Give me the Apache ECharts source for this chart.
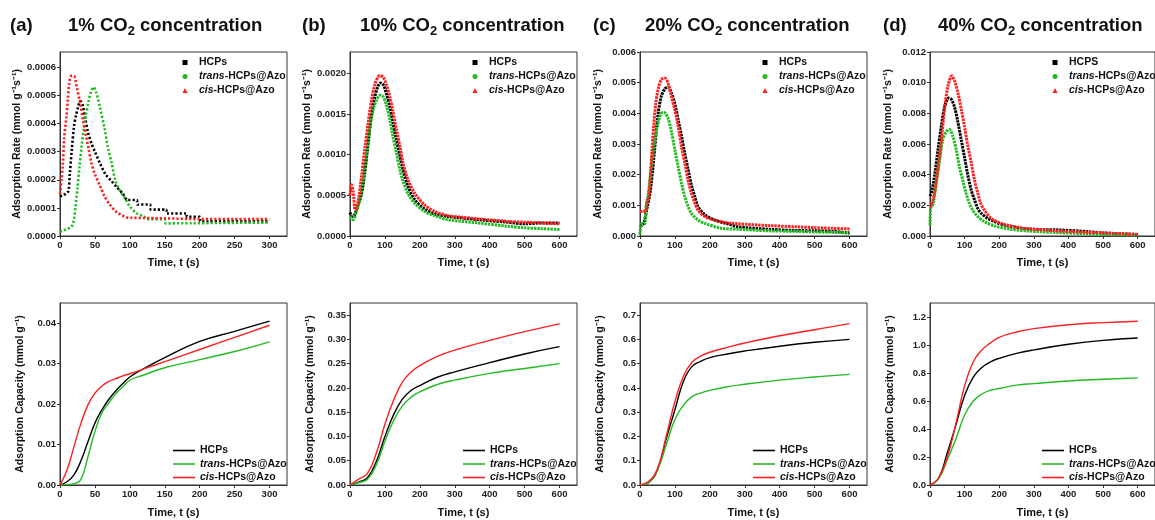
<!DOCTYPE html>
<html><head><meta charset="utf-8">
<script src="https://cdn.jsdelivr.net/npm/echarts@6/dist/echarts.min.js"></script>
<style>html,body{margin:0;padding:0;background:#fff}#c{width:1155px;height:520px}</style>
</head><body><div id="c"></div>
<script>
const FONT = 'Liberation Sans, Arial, Helvetica, sans-serif';

// ---------- Tick / label text ----------
const panelLetters = ['(a)', '(b)', '(c)', '(d)'];
const concLabels = ['1%', '10%', '20%', '40%'];
const xName = 'Time, t (s)';
const rateName = 'Adsorption Rate (mmol g\u207B\u00B9s\u207B\u00B9)';
const capName = 'Adsorption Capacity (mmol g\u207B\u00B9)';
const seriesNames = ['HCPs', 'trans-HCPs@Azo', 'cis-HCPs@Azo'];
const seriesNamesD = ['HCPS', 'trans-HCPs@Azo', 'cis-HCPs@Azo'];

// ---------- (a) 1% rate ----------
const rateA_HCPs_t = [0,4,8,12,14,17,20,23,26,29,32,36,40,45,50,57,65,72,81,90,97,110,111,129,130,152,153,181,182,200,201,300];
const rateA_HCPs = [0.00014,0.000145,0.00015,0.00016,0.00022,0.00031,0.00039,0.00043,0.00046,0.00048,0.00047,0.00042,0.00037,0.00033,0.0003,0.00026,0.00022,0.0002,0.000175,0.00015,0.000128,0.000128,0.000112,0.000112,0.000094,0.000094,0.00008,0.00008,0.000068,0.000068,0.000052,0.000052];
const rateA_trans_t = [0,5,10,15,18,20,22,25,28,31,34,37,41,44,48,52,57,64,69,74,79,86,93,100,110,120,125,150,151,300];
const rateA_trans = [0.000015,0.00002,0.000025,0.00003,0.00004,0.00006,0.0001,0.00017,0.00025,0.00032,0.00038,0.00043,0.00048,0.00051,0.00053,0.00051,0.00046,0.00038,0.00031,0.00026,0.0002,0.00016,0.000135,0.000105,0.00008,0.00007,0.00006,0.00006,0.000045,0.000048];
const rateA_cis_t = [0,2,4,6,9,11,13,16,20,24,29,33,37,41,45,50,57,64,72,81,90,96,100,150,200,250,300];
const rateA_cis = [0.00015,0.0002,0.00025,0.00035,0.00042,0.00048,0.00054,0.00057,0.00057,0.00053,0.00047,0.00041,0.00036,0.00031,0.00026,0.00022,0.00018,0.00014,0.00011,0.000085,0.000072,0.000066,0.000065,0.000063,0.00006,0.00006,0.00006];

// ---------- (b) 10% rate ----------
const rateB_HCPs_t = [0,6,13,23,33,42,52,61,71,80,87,95,104,114,123,133,143,152,166,186,214,243,281,368,450,500,550,600];
const rateB_HCPs = [0.00029,0.00024,0.00026,0.00038,0.00052,0.00077,0.00114,0.00147,0.00171,0.00184,0.00188,0.00186,0.00175,0.00159,0.00139,0.00118,0.00098,0.00081,0.00061,0.00044,0.00033,0.00027,0.00024,0.0002,0.00017,0.00015,0.00016,0.00016];
const rateB_trans_t = [0,9,18,28,37,47,56,66,76,87,95,104,114,123,133,143,152,166,186,214,243,281,368,450,500,550,600];
const rateB_trans = [0.00024,0.0002,0.0003,0.00044,0.00065,0.00098,0.0013,0.00155,0.00167,0.00173,0.00171,0.00161,0.00143,0.00122,0.00102,0.00081,0.00067,0.00052,0.0004,0.0003,0.00025,0.0002,0.00016,0.00012,0.0001,0.00009,0.00008];
const rateB_cis_t = [0,4,9,15,23,33,42,52,61,71,85,95,104,114,123,133,143,152,166,186,214,243,281,320,368,450,500,550,600];
const rateB_cis = [0.0005,0.00063,0.00055,0.00032,0.00042,0.00073,0.00106,0.00139,0.00165,0.00186,0.00197,0.00195,0.00186,0.00171,0.00153,0.0013,0.0011,0.00089,0.00069,0.00052,0.00038,0.0003,0.00025,0.00023,0.00021,0.00018,0.00017,0.00016,0.00015];

// ---------- (c) 20% rate ----------
const rateC_HCPs_t = [0,10,20,30,40,52,61,71,80,90,100,109,119,128,138,147,157,166,186,214,253,281,368,450,500,550,600];
const rateC_HCPs = [0.0003,0.0004,0.0009,0.0015,0.0026,0.004,0.00455,0.0048,0.00486,0.00466,0.0043,0.0038,0.00325,0.0027,0.00216,0.00167,0.00128,0.00096,0.00069,0.00052,0.00039,0.0003,0.00022,0.00018,0.00017,0.00015,0.0001];
const rateC_trans_t = [0,4,13,18,23,33,42,52,61,69,80,90,100,109,119,128,138,147,166,186,233,281,368,450,500,550,600];
const rateC_trans = [0.00005,0.0004,0.0004,0.001,0.0013,0.0023,0.0031,0.0037,0.004,0.00403,0.00385,0.0034,0.0028,0.00227,0.00172,0.00129,0.00096,0.00074,0.00052,0.00041,0.00025,0.00022,0.00017,0.00015,0.00013,0.00012,0.0001];
const rateC_cis_t = [0,8,15,20,25,30,35,40,45,52,61,71,80,90,100,109,119,128,138,147,157,166,186,214,243,281,368,450,500,550,600];
const rateC_cis = [0.0008,0.0008,0.0008,0.0011,0.0013,0.002,0.0029,0.0037,0.0043,0.0048,0.0051,0.00515,0.005,0.00455,0.0041,0.0036,0.0029,0.0024,0.0018,0.0014,0.00107,0.00085,0.00063,0.00052,0.00044,0.0004,0.00034,0.0003,0.00027,0.00025,0.00023];

// ---------- (d) 40% rate ----------
const rateD_HCPs_t = [0,6,13,23,33,42,54,62,71,80,90,100,109,119,128,138,147,166,186,214,281,368,450,500,600];
const rateD_HCPs = [0.0026,0.003,0.0039,0.0056,0.0072,0.0084,0.009,0.0089,0.0084,0.0075,0.0063,0.0051,0.004,0.003,0.0024,0.0018,0.0015,0.00116,0.00094,0.00072,0.00046,0.0004,0.0003,0.0002,0.0001];
const rateD_trans_t = [0,2,9,18,28,37,47,56,66,76,85,95,104,114,123,138,157,186,233,281,368,450,500,600];
const rateD_trans = [0.0007,0.0018,0.0021,0.0035,0.005,0.0063,0.0068,0.00695,0.0065,0.0056,0.0045,0.0036,0.0028,0.0021,0.0017,0.00127,0.00094,0.00066,0.00044,0.00033,0.00022,0.00015,0.0001,0.00005];
const rateD_cis_t = [0,4,11,18,23,33,42,52,63,71,80,90,100,109,119,128,138,147,157,176,205,243,281,329,368,450,500,600];
const rateD_cis = [0.0019,0.002,0.0026,0.0035,0.0044,0.0063,0.0083,0.0098,0.01045,0.0101,0.0094,0.0083,0.0071,0.0059,0.0048,0.0037,0.0028,0.0021,0.0017,0.00116,0.00083,0.00061,0.00048,0.0004,0.00033,0.00025,0.0002,0.0001];

// ---------- capacity curves ----------
const capA_t = [0,10,20,30,40,50,60,70,80,90,100,120,150,200,250,300];
const capA_HCPs = [0,0.0008,0.0025,0.006,0.0107,0.0153,0.0186,0.0212,0.0233,0.0251,0.0267,0.0288,0.0315,0.0355,0.038,0.0405];
const capA_trans = [0,0.0001,0.0003,0.0014,0.007,0.0132,0.0178,0.0203,0.0226,0.0243,0.0259,0.0272,0.029,0.031,0.033,0.0354];
const capA_cis = [0,0.0037,0.0095,0.0153,0.0198,0.0227,0.0245,0.0256,0.0263,0.027,0.0275,0.0287,0.0305,0.0335,0.0365,0.0395];

const capBCD_t = [0,25,50,75,100,125,150,175,200,250,300,400,500,600];
const capB_HCPs = [0,0.006,0.015,0.048,0.1,0.145,0.177,0.195,0.205,0.222,0.233,0.252,0.27,0.285];
const capB_trans = [0,0.005,0.012,0.041,0.09,0.133,0.163,0.181,0.192,0.207,0.216,0.23,0.24,0.25];
const capB_cis = [0,0.012,0.024,0.065,0.125,0.175,0.212,0.233,0.246,0.265,0.278,0.298,0.316,0.332];

const capC_HCPs = [0,0.01,0.062,0.19,0.31,0.43,0.49,0.51,0.525,0.54,0.552,0.572,0.588,0.6];
const capC_trans = [0,0.01,0.062,0.165,0.27,0.33,0.365,0.38,0.39,0.405,0.415,0.432,0.445,0.456];
const capC_cis = [0,0.015,0.068,0.2,0.344,0.45,0.508,0.532,0.547,0.567,0.585,0.615,0.64,0.665];

const capD_HCPs = [0,0.05,0.23,0.43,0.64,0.77,0.84,0.88,0.905,0.94,0.965,1.005,1.033,1.05];
const capD_trans = [0,0.045,0.18,0.33,0.5,0.6,0.65,0.677,0.689,0.713,0.724,0.743,0.755,0.765];
const capD_cis = [0,0.05,0.2,0.44,0.71,0.88,0.965,1.015,1.055,1.093,1.117,1.145,1.16,1.17];

// ---------- axis ranges ----------
const xMaxTop = [325, 650, 650, 650];
const xIntTop = [50, 100, 100, 100];
const yMaxTop = [0.000655, 0.00226, 0.006, 0.012];
const yIntTop = [0.0001, 0.0005, 0.001, 0.002];
const yDecTop = [4, 4, 3, 3];
const yMaxBot = [0.045, 0.375, 0.75, 1.3];
const yIntBot = [0.01, 0.05, 0.1, 0.2];
const yDecBot = [2, 2, 1, 1];

// ---------- styling / layout ----------
const COLORS = ['#000000', '#22bb22', '#ff1f1f'];
const gridLeft = [60, 350, 640, 930];
const GW = 227;
const titleLetterLeft = [10, 302, 593, 883];
const titleLeft = [68, 360, 645, 938];
const legTopLeft = [182.5, 472.5, 762.5, 1052.5];
const legBotLeft = [173, 463, 753, 1042];

const rateData = [
  [[rateA_HCPs_t, rateA_HCPs], [rateA_trans_t, rateA_trans], [rateA_cis_t, rateA_cis]],
  [[rateB_HCPs_t, rateB_HCPs], [rateB_trans_t, rateB_trans], [rateB_cis_t, rateB_cis]],
  [[rateC_HCPs_t, rateC_HCPs], [rateC_trans_t, rateC_trans], [rateC_cis_t, rateC_cis]],
  [[rateD_HCPs_t, rateD_HCPs], [rateD_trans_t, rateD_trans], [rateD_cis_t, rateD_cis]]
];
const capData = [
  [[capA_t, capA_HCPs], [capA_t, capA_trans], [capA_t, capA_cis]],
  [[capBCD_t, capB_HCPs], [capBCD_t, capB_trans], [capBCD_t, capB_cis]],
  [[capBCD_t, capC_HCPs], [capBCD_t, capC_trans], [capBCD_t, capC_cis]],
  [[capBCD_t, capD_HCPs], [capBCD_t, capD_trans], [capBCD_t, capD_cis]]
];

function zip(t, v) { return t.map((x, i) => [x, v[i]]); }

const grids = [], xAxes = [], yAxes = [], series = [], legends = [], titles = [];

function axisCommon() {
  return {
    axisLine: { show: true, lineStyle: { color: '#333', width: 1 } },
    axisTick: { show: true, inside: false, length: 3, lineStyle: { color: '#333', width: 1 } },
    splitLine: { show: false },
    axisLabel: { fontFamily: FONT, fontSize: 9.5, fontWeight: 'bold', color: '#222', margin: 4 }
  };
}

const legendRichTop = {
  i: { fontFamily: FONT, fontSize: 10.5, fontWeight: 'bold', fontStyle: 'italic', color: '#111' },
  g: { width: 6.5 }
};
const legendRichBot = {
  i: { fontFamily: FONT, fontSize: 10.5, fontWeight: 'bold', fontStyle: 'italic', color: '#111' }
};
function italicize(name) { return name.replace(/^(trans|cis)-/, (m, p) => '{i|' + p + '}-'); }

for (let p = 0; p < 4; p++) {
  for (let row = 0; row < 2; row++) {
    const gi = grids.length;
    grids.push({ left: gridLeft[p], width: GW, top: row === 0 ? 52 : 303, height: row === 0 ? 184 : 182,
      show: true, borderColor: '#333', borderWidth: 1, backgroundColor: 'transparent' });
    const xa = axisCommon();
    Object.assign(xa, { type: 'value', gridIndex: gi, min: 0, max: xMaxTop[p], interval: xIntTop[p],
      name: xName, nameLocation: 'middle', nameGap: row === 0 ? 21 : 22,
      nameTextStyle: { fontFamily: FONT, fontSize: 11, fontWeight: 'bold', color: '#111' } });
    xa.axisLabel.showMaxLabel = false;
    xAxes.push(xa);
    const ya = axisCommon();
    const dec = row === 0 ? yDecTop[p] : yDecBot[p];
    const ymax = row === 0 ? yMaxTop[p] : yMaxBot[p];
    const yint = row === 0 ? yIntTop[p] : yIntBot[p];
    Object.assign(ya, { type: 'value', gridIndex: gi, min: 0, max: ymax, interval: yint,
      name: row === 0 ? rateName : capName, nameLocation: 'middle', nameGap: row === 0 ? 36 : 34,
      nameTextStyle: { fontFamily: FONT, fontSize: 10.5, fontWeight: 'bold', color: '#111' } });
    ya.axisLabel.formatter = v => v.toFixed(dec);
    const onTick = Math.abs(ymax / yint - Math.round(ymax / yint)) < 1e-6;
    ya.axisLabel.showMaxLabel = onTick;
    yAxes.push(ya);

    const names = (p === 3 && row === 0) ? seriesNamesD : seriesNames;
    const dat = row === 0 ? rateData[p] : capData[p];
    for (let s = 0; s < 3; s++) {
      series.push({
        type: 'line', name: names[s], xAxisIndex: gi, yAxisIndex: gi,
        data: zip(dat[s][0], dat[s][1]),
        showSymbol: false, symbol: 'none', smooth: row === 0 ? 0.3 : 0.45,
        color: COLORS[s],
        lineStyle: row === 0
          ? { width: p === 0 ? 2.6 : 3, type: p === 0 ? [2.2, 2] : [2.4, 0.9], color: COLORS[s] }
          : { width: 1.4, color: COLORS[s] },
        z: 2 + s, silent: true, animation: false
      });
    }
    if (row === 0) {
      legends.push({ orient: 'vertical', left: legTopLeft[p], top: 57, padding: 0, itemGap: 3, itemWidth: 5, itemHeight: 5,
        selectedMode: false,
        data: [{ name: names[0], icon: 'rect' }, { name: names[1], icon: 'circle' }, { name: names[2], icon: 'triangle' }],
        formatter: n => '{g| }' + italicize(n),
        textStyle: { fontFamily: FONT, fontSize: 10.5, fontWeight: 'bold', color: '#111', rich: legendRichTop } });
    } else {
      legends.push({ orient: 'vertical', left: legBotLeft[p], top: 445, padding: 0, itemGap: 2.5, itemWidth: 22, itemHeight: 1.6,
        symbolKeepAspect: false, selectedMode: false,
        data: names.map(n => ({ name: n, icon: 'rect' })),
        formatter: italicize,
        textStyle: { fontFamily: FONT, fontSize: 10.5, fontWeight: 'bold', color: '#111', rich: legendRichBot } });
    }
  }
  titles.push({ text: '{b|' + panelLetters[p] + '}', left: titleLetterLeft[p], top: 14, padding: 0,
    textStyle: { rich: { b: { fontFamily: FONT, fontSize: 18.5, fontWeight: 'bold', color: '#111', lineHeight: 24 } } } });
  titles.push({ text: '{b|' + concLabels[p] + ' CO}{s|2}{b| concentration}', left: titleLeft[p], top: 14, padding: 0,
    textStyle: { rich: {
      b: { fontFamily: FONT, fontSize: 18.5, fontWeight: 'bold', color: '#111', lineHeight: 24 },
      s: { fontFamily: FONT, fontSize: 13, fontWeight: 'bold', color: '#111', lineHeight: 13, verticalAlign: 'bottom' }
    } } });
}

const chart = echarts.init(document.getElementById('c'), null, { renderer: 'canvas' });
chart.setOption({
  backgroundColor: '#ffffff', animation: false,
  title: titles, grid: grids, xAxis: xAxes, yAxis: yAxes, legend: legends, series: series
});
</script></body></html>
